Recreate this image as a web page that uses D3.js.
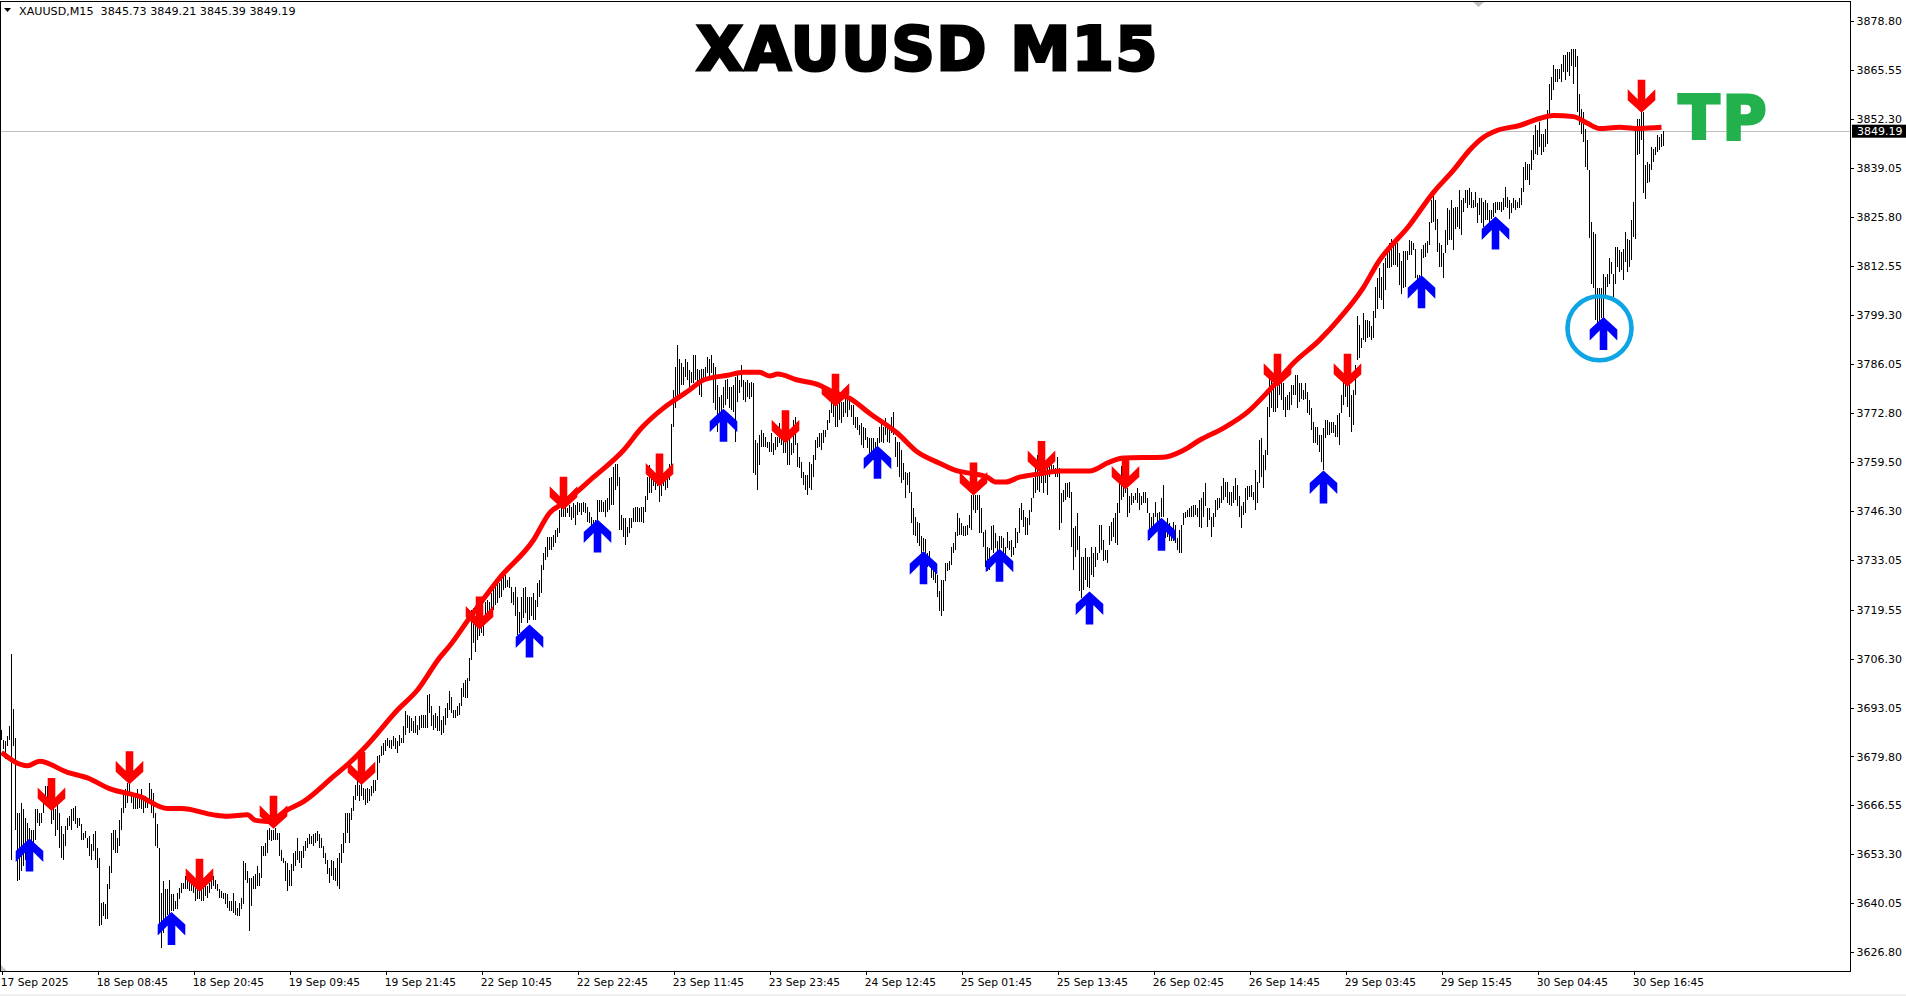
<!DOCTYPE html>
<html>
<head>
<meta charset="utf-8">
<script src="https://cdn.jsdelivr.net/npm/d3@7/dist/d3.min.js"></script>
<style>
	html, body { margin: 0; padding: 0; background: #fff; overflow: hidden; }
	text { font-family: "DejaVu Sans", sans-serif; }
</style>
</head>
<body>
<div id="chart"></div>
<script>
const highs = [
3687.1,3684.4,3683.9,3685.4,3688,3707.6,3692.6,3684.8,3664.5,3664.5,
3667.1,3665.5,3663.2,3661.9,3660.5,3660,3660,3665.5,3665.5,3664.5,
3664.5,3668.1,3671.7,3671.7,3669,3666.3,3667.2,3665.5,3667.2,3664.5,
3660.9,3658.7,3660.9,3663.2,3663.6,3665.5,3665.9,3666.3,3663.2,3663.2,
3661.4,3659.1,3659.6,3657.8,3658.2,3656,3658.7,3659.6,3655.1,3652.4,
3640.2,3640.4,3639.8,3645.2,3650.1,3659.1,3660,3660,3657.8,3662.7,
3665.9,3670,3670.9,3672.6,3672.6,3670,3669.5,3669,3670.9,3669,
3671,3669,3669,3668.1,3672.5,3671,3670,3664.5,3661.4,3655.1,
3642.9,3646,3643.8,3643.8,3646.5,3642.5,3642.5,3640.7,3642.9,3644.3,
3645.6,3645.6,3647.4,3647,3646.5,3645.6,3645.6,3644.3,3643.8,3644.7,
3643.8,3644.7,3644.7,3644.7,3645.6,3647.4,3647.4,3646.5,3645.2,3643.8,
3643.4,3642.9,3642.9,3642.5,3640.7,3640.7,3642.9,3640.7,3638.9,3640.2,
3641.6,3651.5,3651,3648.8,3647,3647,3647.4,3647.9,3650.1,3648.3,
3655.5,3655.5,3656.4,3660,3660.5,3660,3660,3660.5,3659.1,3659.1,
3654.6,3652.4,3651.5,3651,3649.2,3650.6,3653.7,3654.2,3657.8,3654.2,
3654.2,3655.5,3656.9,3657.8,3658.7,3658.2,3658.7,3659.1,3659.6,3658.7,
3657.8,3655.5,3653.7,3651.9,3649.7,3651.9,3651.5,3649.7,3652.4,3653.7,
3656,3659.1,3664.5,3664.5,3664.5,3665.9,3669,3672.2,3673.1,3672.2,
3672.6,3671.3,3670.9,3671.3,3670.9,3671.7,3673.5,3673.5,3679.8,3680.3,
3682.6,3683.5,3684.4,3684.8,3684.4,3684.4,3685.3,3684.8,3683.9,3685.7,
3684.8,3688,3692,3691.1,3690.7,3690.2,3689.3,3690.7,3688.4,3690.7,
3691.1,3691.1,3691.1,3696.5,3696.8,3693.4,3691.1,3691.6,3690.7,3693.4,
3689.8,3690.7,3692.9,3694.3,3697.4,3696,3692.5,3692.5,3693.4,3694.3,
3698.3,3699.7,3700.6,3701,3706.4,3719.5,3720,3717.7,3716.4,3716.8,
3715.9,3715.9,3721.7,3722.2,3721.7,3724,3725.8,3725.8,3728,3726.7,
3728.5,3728.5,3729,3727.6,3728.5,3725.8,3724.4,3725.8,3723.1,3719,
3723.1,3725.4,3725.8,3723.1,3723.1,3723.1,3724,3722.2,3726.7,3727.6,
3731.7,3734.8,3736.6,3739.3,3739.3,3739.3,3739.8,3741.1,3741.6,3746.5,
3747.4,3747.4,3748.3,3747,3747.9,3747.4,3748.3,3747.9,3748.8,3748.3,
3748.3,3748.8,3748.3,3747.4,3746.1,3744.7,3743.8,3743.8,3749.2,3749.2,
3749.2,3748.8,3749.2,3749.7,3755.1,3755.5,3758.2,3759.1,3759.1,3755.5,
3745.2,3744.3,3744.3,3742,3744.3,3744.3,3747,3747.4,3747.4,3747,
3747.4,3747.4,3750.2,3755.5,3758.7,3756.4,3756.4,3756,3755.5,3755.5,
3755.1,3755.5,3755.5,3755.5,3759.1,3769.9,3779,3785.3,3791.1,3787.5,
3786.2,3785.3,3787.5,3786.6,3784.4,3783.9,3788.4,3788.4,3784.8,3784.4,
3784.8,3784.8,3785.3,3788,3787.5,3788.4,3786.2,3785.3,3780.3,3777.2,
3777.6,3779.9,3781.7,3782.1,3779.9,3779.9,3780.3,3782.6,3783,3781.7,
3785.7,3781.7,3781.2,3781.7,3780.8,3781.2,3780.8,3765.5,3764.6,3766.8,
3768.2,3767.3,3766.4,3765,3765,3767.3,3764.6,3766.4,3766.4,3770,
3767.7,3766.8,3765.5,3765.5,3766.4,3764.6,3770.9,3771.8,3764.6,3761,
3759.6,3756.9,3756,3756,3759.6,3759.1,3761.4,3765.5,3766.4,3767.3,
3767.3,3768.2,3768.2,3770.9,3773.6,3776.3,3775.4,3775.4,3774.9,3777.2,
3775.8,3775.8,3777.6,3777.6,3776.3,3774.9,3774.9,3771.8,3771.8,3769.5,
3770,3769.1,3768.6,3766.4,3765.9,3765.9,3765.9,3765,3765.9,3769.1,
3770,3769.1,3771.3,3769.5,3769.1,3771.8,3773.1,3766.4,3765,3765,
3762.8,3759.2,3756.9,3756.5,3756.9,3751.5,3747,3744.7,3743.4,3743,
3739.4,3738.9,3738.7,3734.9,3735.3,3732.1,3731.2,3730.3,3729,3724.5,
3727.6,3727.6,3732.1,3732.1,3732.6,3736.6,3737.5,3740.7,3745.6,3744.3,
3743,3742.1,3742.1,3742.5,3745.2,3750.6,3750.6,3750.6,3750.6,3750.6,
3747,3740.7,3741.1,3736.6,3736.2,3742.3,3742.5,3740.3,3738,3739.4,
3739.4,3738.9,3736.6,3740.7,3738,3738.4,3736.6,3741.6,3740.7,3747,
3748.3,3746.5,3744.7,3744.3,3746.5,3749.7,3755.1,3759.6,3761.4,3756.9,
3758.3,3757.8,3757.8,3759.2,3758.7,3759.2,3758.7,3757.8,3761,3757.8,
3751,3751.9,3753.7,3753.7,3754.2,3751.5,3741.6,3742.1,3745.6,3739.4,
3733.9,3733.9,3736.2,3733.9,3733.9,3736.6,3734.8,3736.6,3734.8,3742.5,
3742.5,3738.4,3735.7,3735.7,3742.1,3743.4,3744.3,3745.6,3748.3,3753.7,
3758.3,3756.5,3754.7,3752.4,3750.2,3751,3750.2,3751,3752.4,3751,
3750.2,3751.5,3751.5,3749.7,3745.6,3744.7,3745.6,3748.8,3745.6,3746.1,
3749.7,3753.3,3743.4,3744.3,3743,3740.7,3743.4,3742.5,3738.9,3741.1,
3742.5,3745.6,3746.1,3746.5,3747,3747.5,3747.9,3747.9,3747,3749.2,
3749.7,3751.5,3753.7,3747,3747,3744.7,3745.6,3749.2,3749.7,3749.7,
3752.9,3755.1,3754.2,3754.2,3751.5,3751.5,3752.9,3755.1,3753.3,3750.2,
3747.5,3748.8,3752.4,3752.9,3752.9,3753.3,3751.5,3757.4,3754.2,3765.5,
3765.9,3761.4,3762.8,3774.5,3782.1,3782.1,3781.2,3781.7,3780.8,3780.8,
3780.8,3780.8,3777.2,3777.6,3778.5,3780.3,3780.3,3783,3783,3780.8,
3780.8,3779,3780.8,3778.5,3776.3,3774,3770.4,3769.1,3769.1,3766.8,
3766.8,3768.6,3770.9,3770.9,3770.4,3770.4,3770.4,3769.5,3772.2,3772.7,
3777.6,3781.2,3780.8,3780.8,3780.3,3777.6,3779,3785.7,3798.9,3796.7,
3793,3799.8,3798,3798,3797.6,3796.2,3800.3,3807,3809.3,3811.9,
3809.7,3813.3,3814.6,3817.3,3818.7,3820,3818.3,3819.2,3818.7,3816,
3813.8,3816.5,3816.5,3816.5,3819.6,3819.2,3818.7,3817.3,3810.2,3810.2,
3817.3,3818.3,3818.7,3819.2,3824.6,3830.4,3831.8,3830.4,3825.4,3818.7,
3818.3,3816,3822.3,3828.2,3827.7,3830.4,3828.2,3828.6,3828.6,3833.1,
3830.4,3830.9,3833.1,3833.1,3833.6,3832.7,3830.4,3832.7,3829.5,3830.9,
3830.9,3829.9,3830.4,3829.5,3827.7,3827.7,3829.5,3829.9,3829.9,3829.9,
3829.9,3830.9,3834,3831.3,3830.4,3829.5,3830.9,3830.4,3829.9,3830.9,
3833.6,3839.4,3840.7,3840.3,3840.3,3843.9,3847.9,3850.6,3849.3,3851.6,
3848.4,3848.4,3849.7,3854.7,3861.9,3863.7,3867.1,3865.9,3865.9,3865.9,
3867.3,3869.8,3869.8,3870.4,3870.4,3871.3,3871.3,3871.3,3869.5,3859.2,
3855.1,3854.2,3849.7,3846.6,3838.5,3824.5,3821.8,3821.3,3806.5,3806.5,
3806.5,3810.5,3809.6,3810.5,3814.6,3813.7,3810.5,3817.7,3817.7,3816.8,
3816.4,3817.3,3821.8,3820,3819.5,3824.9,3829.9,3849.3,3852.4,3852.4,
3854.2,3854.2,3839.8,3840.7,3840.3,3844.8,3844.3,3844.8,3847.9,3847.5,
3848.4,3849.1
];
const lows = [
3684.4,3681.7,3679,3682.6,3684.4,3651.9,3682.6,3660,3646,3646.5,
3648.8,3650.1,3651.9,3656.4,3657.3,3656,3655.5,3657.3,3661.9,3660.9,
3661.9,3664.5,3667.2,3668.1,3665.9,3661.4,3662.7,3658.2,3660,3655.1,
3652.4,3651.9,3655.5,3660,3660.9,3660,3662.3,3661.4,3660.5,3660.9,
3657.3,3657.3,3657.8,3655.1,3652.8,3651.9,3654.2,3651.9,3649.7,3633.9,
3634.3,3636.6,3635.7,3635.7,3643.8,3648.3,3654.6,3653.7,3653.7,3655.5,
3660,3664.5,3665.9,3667.2,3669,3667.2,3665.5,3665.5,3665.5,3665.9,
3665.5,3664.5,3665.9,3665.9,3667.2,3664.5,3663.2,3655.5,3655.1,3633.9,
3628,3632.1,3635.7,3637,3637,3637.9,3637.9,3638.4,3638.4,3641.1,
3642.9,3643.8,3643.8,3643.8,3643.4,3643.4,3642.9,3640.7,3641.1,3641.1,
3640.7,3640.7,3642,3641.6,3642.9,3643.8,3644.7,3643.8,3643.4,3641.6,
3641.6,3641.1,3639.8,3638.9,3637.9,3637.9,3637.5,3637,3636.6,3636.6,
3638.4,3639.8,3646.5,3645.6,3632.5,3639.3,3643.8,3643.8,3644.7,3644.7,
3647,3652.8,3652.8,3653.7,3657.3,3656.9,3657.3,3657.3,3657.3,3652.8,
3651.5,3651,3646,3643.4,3644.7,3644.7,3648.8,3650.1,3651.9,3651,
3649.7,3652.4,3654.2,3655.1,3656,3656,3655.5,3656.4,3656.9,3655.1,
3655.1,3652.4,3650.6,3647.9,3645.6,3647.4,3646.5,3646,3644.7,3643.8,
3651,3653.7,3656.4,3659.1,3656.4,3662.7,3665,3668.1,3669,3667.7,
3669,3668.1,3666.8,3667.2,3667.7,3669,3669.9,3670.4,3673.5,3678,
3679.8,3680.3,3681.2,3682.6,3682.1,3681.7,3682.6,3681.7,3680.8,3682.6,
3683.5,3683.5,3685.7,3687.5,3686.2,3686.6,3686.2,3686.2,3685.7,3687.1,
3687.5,3687.5,3687.5,3687.5,3691.6,3688,3687.1,3687.5,3686.6,3686.6,
3685.7,3686.2,3688.4,3690.2,3692.5,3691.6,3690.2,3690.2,3690.7,3691.1,
3693.4,3696,3695.6,3695.6,3700.1,3706,3710.5,3708.2,3711.4,3712.3,
3713.2,3712.3,3715.9,3717.7,3718.6,3718.6,3719.5,3720.8,3721.3,3722.7,
3723.1,3724.9,3725.4,3725.8,3725.4,3721.3,3720.8,3717.7,3712.7,3713.2,
3715.9,3717.2,3718.6,3715.9,3716.8,3717.7,3716.8,3716.8,3720.4,3723.1,
3724,3730.4,3733,3733.9,3735.7,3735.7,3736.6,3737.5,3739.3,3740.2,
3744.7,3744.7,3744.7,3745.6,3744.7,3743.8,3744.3,3742.5,3745.2,3746.1,
3745.2,3746.1,3745.6,3743.4,3742.9,3741.6,3742,3741.1,3743.8,3746.1,
3746.1,3746.1,3744.7,3746.1,3746.5,3747.9,3747.9,3752,3752.9,3741.1,
3741.1,3739.3,3737,3739.3,3740.2,3741.6,3743.4,3743.4,3743.4,3743.4,
3743.4,3742.9,3746.1,3749.2,3751,3751,3752.9,3752,3752.9,3748.8,
3750.2,3752.9,3752,3752.4,3754.7,3758.7,3769.1,3774,3777.2,3777.6,
3780.3,3780.3,3782.6,3781.7,3779.9,3780.8,3780.8,3781.7,3780.3,3777.6,
3777.2,3781.7,3782.1,3783.5,3782.1,3783.5,3775.4,3773.6,3767.7,3772.7,
3773.1,3774,3774.9,3776.7,3774,3773.6,3773.1,3765,3775.8,3778.1,
3779.9,3776.3,3775.8,3777.2,3776.7,3777.2,3756.5,3756,3752,3758.7,
3763.7,3763.7,3763.7,3763.2,3762.3,3762.3,3761.4,3762.8,3763.7,3764.6,
3764.1,3761.9,3761.9,3758.7,3758.7,3761.4,3761.9,3764.1,3758.2,3757.8,
3755.1,3753.3,3752,3750.6,3752.4,3752,3755.5,3760.1,3763.2,3763.7,
3762.8,3764.6,3766.4,3768.2,3770,3772.7,3771.8,3769.1,3769.1,3770.9,
3770,3771.8,3772.7,3771.8,3773.6,3771.8,3769.5,3768.6,3768.2,3766.8,
3764.1,3763.2,3765.5,3763.2,3761.9,3761.9,3760.1,3761.4,3762.8,3764.6,
3765,3764.6,3766.8,3765,3764.6,3767.3,3766.8,3761,3758.2,3755.5,
3753.8,3754.7,3749.7,3753.3,3751,3743,3739.8,3739.4,3737.6,3736.7,
3734.9,3735.3,3734.9,3731.2,3732.1,3728.1,3727.6,3726.7,3723.1,3719.1,
3717.7,3719.1,3727.2,3729.9,3730.3,3731.7,3734.8,3735.7,3739.4,3739.8,
3739.8,3739.4,3739.4,3739.8,3741.6,3741.1,3746.5,3745.6,3746.5,3740.3,
3740.3,3736.6,3731.2,3729.9,3730.3,3735.7,3734.8,3736.2,3735.3,3734.8,
3736.2,3734.8,3733.9,3736.2,3735.7,3733.9,3734.4,3736.2,3737.5,3740.2,
3743.8,3742,3739.8,3739.8,3742.5,3746.1,3749.7,3751,3751.9,3751.5,
3753.7,3751,3753.7,3750.6,3755.5,3756.4,3757.4,3755.5,3755.5,3741.1,
3743,3748.8,3749.2,3750.1,3749.7,3736.6,3730.3,3733.9,3735.7,3724.5,
3722.7,3724.9,3727.6,3725.8,3725.4,3729,3728.5,3731.2,3733,3734.8,
3735.7,3732.6,3733,3732.1,3737.1,3738,3739.3,3737.6,3737.1,3745.6,
3749.2,3750.1,3751,3744.7,3745.6,3747.9,3748.3,3749.2,3748.3,3746.5,
3747.9,3748.3,3748.3,3745.6,3738.4,3739.3,3741.1,3744.7,3741.1,3743.8,
3744.7,3744.7,3738.9,3739.3,3738,3738,3738,3737.5,3735.7,3734.8,
3734.8,3742.5,3744.3,3744.7,3744.7,3744.7,3744.7,3745.2,3744.7,3742,
3741.6,3744.7,3747.5,3742,3743.8,3739.3,3742,3744.7,3746.5,3747,
3748.3,3749.2,3750.1,3748.3,3747.9,3747.5,3748.3,3749.2,3747.5,3744.7,
3741.6,3745.2,3745.6,3749.2,3750.1,3750.1,3749.2,3746.5,3748.3,3753.8,
3755.5,3752.4,3757.4,3761.4,3771.8,3774,3773.1,3773.1,3774,3777.6,
3776.3,3773.6,3771.8,3773.6,3773.6,3775,3777.6,3777.6,3774,3775.8,
3776.7,3776.3,3776.7,3772.7,3772.2,3768.2,3764.6,3764.6,3764.1,3762.3,
3759.6,3757.4,3765.9,3766.8,3766.8,3767.3,3767.3,3766.4,3766.4,3764.1,
3772.7,3775,3777.2,3774.5,3771.8,3767.7,3769.5,3777.6,3787.1,3787.6,
3790.3,3792.6,3792.1,3793,3793.4,3792.6,3793,3798.4,3801,3803.8,
3803.3,3801,3806,3811.9,3811.9,3812.4,3812.9,3812.9,3812.4,3807.4,
3805.1,3806.5,3807,3814.2,3815.5,3815.5,3816.9,3809.2,3808.8,3808.8,
3809.7,3814.6,3815,3816,3818.3,3824.1,3824.6,3822.3,3816.4,3812.3,
3812.3,3809.2,3816,3818.3,3819.6,3819.6,3816.9,3822.7,3823.2,3822.7,
3820.9,3827.2,3829.5,3828.2,3829,3828.2,3828.2,3828.6,3824.1,3826.3,
3824.1,3823.2,3825,3825,3824.1,3825.4,3825.9,3826.8,3827.7,3827.7,
3827.2,3827.7,3828.6,3828.2,3825.4,3826.8,3828.2,3827.7,3828.2,3828.2,
3829,3832.7,3835.8,3835.8,3834.4,3838.5,3841.2,3843,3842.6,3844.8,
3842.5,3843.4,3844.8,3845.7,3853.4,3857.4,3860.1,3862.3,3862.3,3863.2,
3862.3,3865,3862.8,3865,3864.1,3866.8,3861.9,3866.4,3854.2,3850.6,
3848.4,3846.1,3839.4,3838.5,3820.1,3807.8,3806.5,3797.9,3797,3796.1,
3798.4,3797.9,3804.2,3806.9,3807.8,3810.5,3804.2,3807.8,3812.3,3811,
3811.4,3808.7,3813.7,3811,3812.3,3814.1,3820.4,3820,3842.5,3843,
3846.6,3832.2,3830.8,3834.9,3835.3,3838.5,3840.7,3842.5,3843.4,3843.9,
3844.8,3845
];

// moving average, read at the bar numbers in maBars
const maBars = [0,13,19,33,43,54,69,83,90,106,113,123,127,133,143,151,166,174,183,198,208,219,224,234,249,266,274,281,296,311,320,331,338,344,351,363,371,379,384,388,398,409,416,424,434,448,458,469,478,484,493,497,502,509,519,529,544,554,561,581,591,599,611,623,634,646,659,669,681,688,704,716,726,734,741,748,759,769,776,786,793,799,809,819,830];
const maValues = [3680.9,3677.3,3678.5,3675.5,3674,3671.1,3669,3665.7,3665.7,3664,3663.6,3664,3662.5,3662.2,3665.4,3667.6,3674.4,3678.1,3683,3692.4,3697.8,3706.5,3709.7,3717.3,3728.1,3738.4,3745.7,3748.4,3755.4,3762.7,3768.7,3774.1,3776.8,3779,3781.7,3783,3783.8,3783.8,3782.8,3783.3,3781.7,3780.3,3778.4,3776.8,3772.7,3767.3,3762.2,3759.2,3757.1,3756.5,3755.4,3754.1,3754.1,3755.4,3756.3,3757.1,3757.1,3759.5,3760.6,3760.8,3762.7,3765.4,3768.7,3773,3779,3786.3,3792.5,3798.4,3806.8,3813.3,3823.6,3832.5,3838.5,3843.9,3847.4,3849.3,3850.6,3852.5,3853.3,3853,3851.2,3849.8,3850.1,3849.8,3850.1];

// signal arrows: bar number and tip price
const upBars = [14,85,264,298,361,438,461,499,544,580,661,710,747,801];
const upPrices = [3657.5,3637.6,3715.4,3743.8,3773.8,3763.8,3735.2,3735.9,3724.3,3744.3,3757.1,3809.9,3825.8,3798.6];
const downBars = [25,64,99,136,180,239,281,329,392,417,486,520,562,638,673,820];
const downPrices = [3665.2,3672.4,3643.3,3660.4,3672.2,3714.3,3746.7,3753,3764.7,3774.6,3750.6,3756.4,3752.2,3780,3780,3854.2];

const priceTicks = [3878.80,3865.55,3852.30,3839.05,3825.80,3812.55,3799.30,3786.05,3772.80,3759.50,3746.30,3733.05,3719.55,3706.30,3693.05,3679.80,3666.55,3653.30,3640.05,3626.80];
const timeTicks = [0,48,96,144,192,240,288,336,384,432,480,528,576,624,672,720,768,816];
const timeLabels = ["17 Sep 2025","18 Sep 08:45","18 Sep 20:45","19 Sep 09:45","19 Sep 21:45","22 Sep 10:45","22 Sep 22:45","23 Sep 11:45","23 Sep 23:45","24 Sep 12:45","25 Sep 01:45","25 Sep 13:45","26 Sep 02:45","26 Sep 14:45","29 Sep 03:45","29 Sep 15:45","30 Sep 04:45","30 Sep 16:45"];

const lastPrice = 3849.19;
const header = "XAUUSD,M15  3845.73 3849.21 3845.39 3849.19";

const width = 1906, height = 996;
const frameRight = 1850.5, frameBottom = 971.5;

const x = d3.scaleLinear().domain([0, 831]).range([1.5, 1663.5]);
const y = d3.scaleLinear().domain([3626.8, 3878.8]).range([952.3, 21.3]);

const svg = d3.select('#chart')
	.append('svg')
	.attr('width', width)
	.attr('height', height)
	.style('display', 'block');

svg.append('rect').attr('x', 0).attr('y', 994).attr('width', width).attr('height', 2).attr('fill', '#f0f0f0');

// current price line
svg.append('line')
	.attr('x1', 0).attr('x2', frameRight)
	.attr('y1', Math.round(y(lastPrice)) + 0.5).attr('y2', Math.round(y(lastPrice)) + 0.5)
	.attr('stroke', '#c0c0c0')
	.attr('shape-rendering', 'crispEdges');

// bars
svg.append('g')
	.selectAll('line')
	.data(d3.range(highs.length))
	.enter()
	.append('line')
	.attr('x1', (d) => x(d))
	.attr('x2', (d) => x(d))
	.attr('y1', (d) => y(highs[d]))
	.attr('y2', (d) => y(lows[d]))
	.attr('stroke', '#000')
	.attr('stroke-width', 1)
	.attr('shape-rendering', 'crispEdges');

// moving average
const maLine = d3.line()
	.x((d, i) => x(maBars[i]))
	.y((d) => y(d))
	.curve(d3.curveMonotoneX);

svg.append('path')
	.attr('d', maLine(maValues))
	.attr('fill', 'none')
	.attr('stroke', '#ff0000')
	.attr('stroke-width', 5)
	.attr('stroke-linejoin', 'round');

// blue circle round the last signal
svg.append('circle')
	.attr('cx', x(799))
	.attr('cy', y(3795.7))
	.attr('r', 32)
	.attr('fill', 'none')
	.attr('stroke', '#0ea5e4')
	.attr('stroke-width', 4.6);

// arrow outline with the tip at 0,0, pointing up
const arrowShape = [[0,-0.5],[13.8,12],[13.8,23],[3.8,13],[3.8,32.5],[-3.8,32.5],[-3.8,13],[-13.8,23],[-13.8,12]];
const arrowPath = d3.line();

svg.append('g')
	.selectAll('path')
	.data(upBars)
	.enter()
	.append('path')
	.attr('d', arrowPath(arrowShape) + 'Z')
	.attr('fill', '#0000ff')
	.attr('transform', (d, i) => `translate(${x(d)},${y(upPrices[i])})`);

svg.append('g')
	.selectAll('path')
	.data(downBars)
	.enter()
	.append('path')
	.attr('d', arrowPath(arrowShape) + 'Z')
	.attr('fill', '#ff0000')
	.attr('transform', (d, i) => `translate(${x(d)},${y(downPrices[i])}) scale(1,-1)`);

// axes
const yAxis = d3.axisRight(y)
	.tickValues(priceTicks)
	.tickFormat(d3.format('.2f'))
	.tickSize(3)
	.tickPadding(3);

const gy = svg.append('g')
	.attr('transform', `translate(${frameRight},0)`)
	.call(yAxis);
gy.select('.domain').remove();
gy.selectAll('line').attr('shape-rendering', 'crispEdges').attr('stroke', '#000');
gy.selectAll('text').attr('font-size', 11).attr('font-family', '"DejaVu Sans"').attr('fill', '#000');

const xAxis = d3.axisBottom(x)
	.tickValues(timeTicks)
	.tickFormat((d, i) => timeLabels[i])
	.tickSize(3)
	.tickPadding(4);

const gx = svg.append('g')
	.attr('transform', `translate(0,${frameBottom})`)
	.call(xAxis);
gx.select('.domain').remove();
gx.selectAll('line').attr('shape-rendering', 'crispEdges').attr('stroke', '#000');
gx.selectAll('text')
	.attr('text-anchor', 'start')
	.attr('dx', -1.2)
	.attr('font-size', 10.7)
	.attr('font-family', '"DejaVu Sans"')
	.attr('fill', '#000');

// frame
svg.append('path')
	.attr('d', `M0.5,${frameBottom}H${frameRight}V1.5H0.5Z`)
	.attr('fill', 'none')
	.attr('stroke', '#000')
	.attr('shape-rendering', 'crispEdges');

// last price tag
svg.append('rect')
	.attr('x', 1852).attr('y', y(lastPrice) - 6)
	.attr('width', 54).attr('height', 13)
	.attr('fill', '#000');
svg.append('text')
	.attr('x', 1857).attr('y', y(lastPrice) + 4.5)
	.attr('font-size', 11)
	.attr('fill', '#fff')
	.text(lastPrice.toFixed(2));

// small window markers
svg.append('path').attr('d', 'M1,971 V965 L7,971 Z').attr('fill', '#c8c8c8');
svg.append('path').attr('d', 'M1473,2 H1484 L1478.5,7 Z').attr('fill', '#c0c0c0');

// header
svg.append('path').attr('d', 'M4,8 H11 L7.5,12 Z').attr('fill', '#000');
svg.append('text')
	.attr('x', 19).attr('y', 15)
	.attr('font-size', 11.15)
	.attr('font-family', '"Liberation Sans"')
	.attr('fill', '#000')
	.attr('xml:space', 'preserve')
	.style('white-space', 'pre')
	.text(header);

// title and TP
svg.append('text')
	.attr('x', 696.5).attr('y', 69.5)
	.attr('font-size', 60)
	.attr('font-weight', 'bold')
	.attr('letter-spacing', 1.7)
	.attr('fill', '#000')
	.attr('stroke', '#000')
	.attr('stroke-width', 3)
	.text('XAUUSD M15');

svg.append('text')
	.attr('x', 1678.5).attr('y', 138.5)
	.attr('font-size', 60)
	.attr('font-weight', 'bold')
	.attr('letter-spacing', 3)
	.attr('fill', '#22b14c')
	.attr('stroke', '#22b14c')
	.attr('stroke-width', 3)
	.text('TP');
</script>
</body>
</html>
